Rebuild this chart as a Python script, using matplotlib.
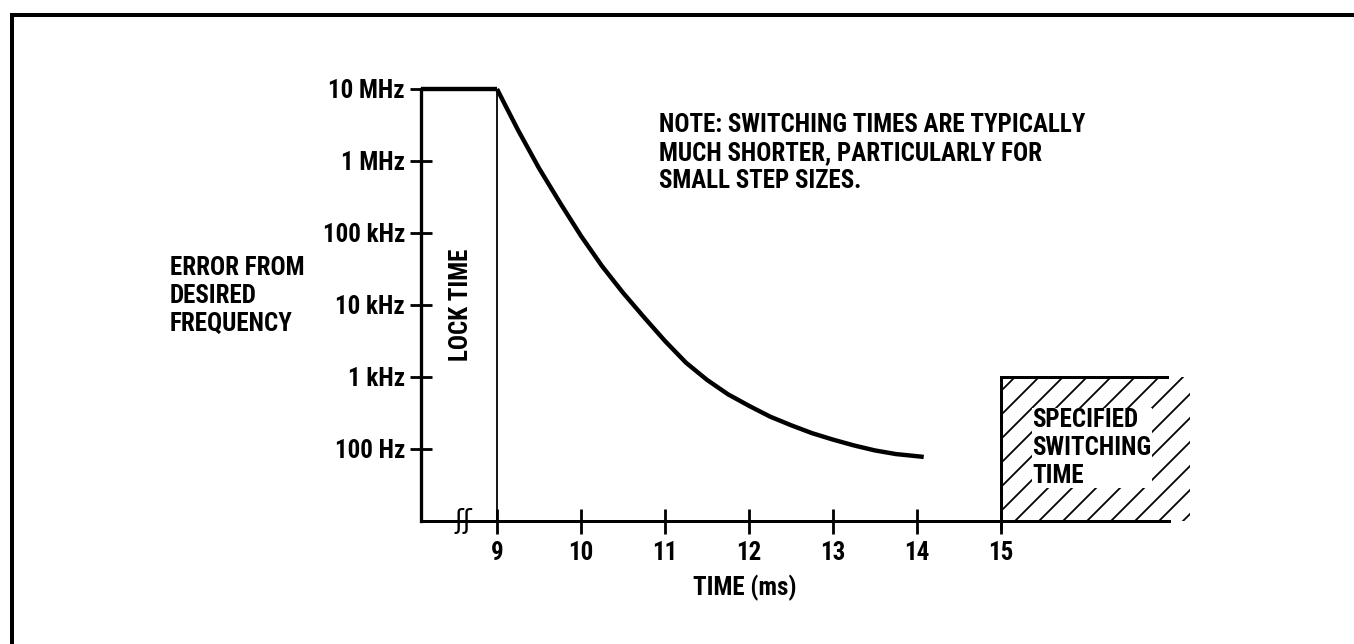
import matplotlib
matplotlib.use("Agg")
import matplotlib.pyplot as plt
from matplotlib.patches import Rectangle
from matplotlib.lines import Line2D

# curve: time (ms) vs frequency error (Hz)
curve_t = [9.0, 9.1, 9.25, 9.5, 9.75, 10.0, 10.25, 10.5, 10.75, 11.0, 11.25, 11.5, 11.75,
           12.0, 12.25, 12.5, 12.75, 13.0, 13.25, 13.5, 13.75, 14.0, 14.08]
curve_hz = [1e7, 5.9e6, 2.69e6, 7.94e5, 2.63e5, 9.1e4, 3.47e4, 1.48e4, 6.76e3, 3.16e3, 1.58e3, 912, 575,
            398, 282, 214, 166, 135, 112, 95.5, 85, 79.4, 77.6]

x_ticks = [9, 10, 11, 12, 13, 14, 15]
x_labels = ['9', '10', '11', '12', '13', '14', '15']
y_ticks = [1e2, 1e3, 1e4, 1e5, 1e6, 1e7]
y_labels = ['100 Hz', '1 kHz', '10 kHz', '100 kHz', '1 MHz', '10 MHz']

lock_t = 9.0
spec_t = 15.0
spec_end = 17.0
spec_hz = 1e3

# dpi 72 so one point is one pixel (and the hatch spacing matches the scan)
W, H = 1354, 644
DPI = 72
fam = ['Roboto Condensed', 'DejaVu Sans']
fs = 25
font = dict(fontfamily=fam, fontweight='bold', fontstretch='condensed', fontsize=fs)

plt.rcParams['hatch.linewidth'] = 1.8

fig = plt.figure(figsize=(W / DPI, H / DPI), dpi=DPI)
fig.patch.set_facecolor('white')

# axes placed so the decades fall where they are in the scan
left, right, top, bottom = 421, 1169, 89, 521
ax = fig.add_axes([left / W, 1 - bottom / H, (right - left) / W, (bottom - top) / H])
ax.set_yscale('log')
ax.set_xlim(8.095, spec_end)
ax.set_ylim(10, 1e7)
ax.set_facecolor('none')

for s in ['top', 'right']:
    ax.spines[s].set_visible(False)
ax.spines['left'].set_linewidth(3.3)
ax.spines['bottom'].set_linewidth(3)

ax.set_xticks(x_ticks)
ax.set_xticklabels(x_labels, **font)
ax.set_yticks(y_ticks)
ax.set_yticklabels(y_labels, **font)
ax.minorticks_off()
ax.tick_params(axis='y', direction='inout', length=22, width=2.8, pad=5)
ax.tick_params(axis='x', direction='inout', length=25, width=2.8, pad=7)

# 10 MHz plateau, then the settling curve
ax.plot([ax.get_xlim()[0], lock_t], [1e7, 1e7], color='black', lw=4.4, solid_capstyle='butt', clip_on=False)
ax.plot(curve_t, curve_hz, color='black', lw=4.4, solid_capstyle='butt', solid_joinstyle='round', clip_on=False)

# lock time marker
ax.plot([lock_t, lock_t], [10, 1e7], color='black', lw=1.8)
ax.text(8.57, 1e4, 'LOCK TIME', rotation=90, ha='center', va='center', **font)

# axis break
ax.text(8.6, 10, 'ʃʃ', ha='center', va='center', fontsize=26, fontfamily='DejaVu Sans')

# specified switching time box
ax.add_patch(Rectangle((spec_t, 10), spec_end - spec_t + 0.25, spec_hz - 10, facecolor='white',
                       edgecolor='black', hatch='/', lw=0, clip_on=False))
ax.plot([spec_t, spec_end], [spec_hz, spec_hz], color='black', lw=3)
ax.plot([spec_t, spec_t], [8, spec_hz], color='black', lw=3, clip_on=False)
ax.text(15.37, 1.03e2, 'SPECIFIED\nSWITCHING\nTIME', ha='left', va='center', linespacing=1.2,
        bbox=dict(facecolor='white', edgecolor='none', pad=0.5), **font)

ax.text(10.93, 4.6e6, 'NOTE: SWITCHING TIMES ARE TYPICALLY\nMUCH SHORTER, PARTICULARLY FOR\nSMALL STEP SIZES.',
        ha='left', va='top', linespacing=1.2, **font)

fig.text(170 / W, 1 - 256 / H, 'ERROR FROM\nDESIRED\nFREQUENCY', ha='left', va='top', linespacing=1.2, **font)

ax.set_xlabel('TIME (ms)', **font)
ax.xaxis.set_label_coords((745 - left) / (right - left), -(588 - bottom) / (bottom - top), transform=ax.transAxes)
ax.xaxis.label.set_va('center')

# page frame (top and left edges of the scanned figure box)
fig.add_artist(Line2D([12 / W, 1], [1 - 15 / H, 1 - 15 / H], color='black', lw=4))
fig.add_artist(Line2D([12 / W, 12 / W], [0, 1 - 15 / H], color='black', lw=4))

fig.savefig('out.png', dpi=DPI)
